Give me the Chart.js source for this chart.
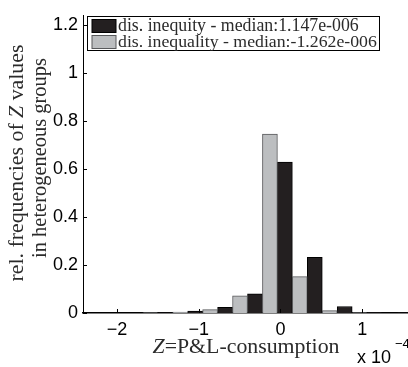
<!DOCTYPE html>
<html><head><meta charset="utf-8">
<script src="https://cdn.jsdelivr.net/npm/chart.js@4/dist/chart.umd.min.js"></script>
<style>html,body{margin:0;padding:0;background:#fff;overflow:hidden}#wrap{width:414px;height:367px}</style>
</head><body><div id="wrap"><canvas id="c" width="414" height="367"></canvas></div>
<script>
// bin centres (units of 1e-4)
const binCenters = [-2.233, -1.867, -1.501, -1.135, -0.769, -0.403, -0.037, 0.329, 0.695, 1.061, 1.427];
// relative frequencies
const inequalityFreq = [0, 0, 0.001, 0.004, 0.014, 0.072, 0.746, 0.152, 0.010, 0.001, 0];
const inequityFreq   = [0, 0, 0.001, 0.008, 0.024, 0.080, 0.630, 0.232, 0.027, 0.002, 0.001];
const seriesLabels = ['dis. inequity - median:1.147e-006', 'dis. inequality - median:-1.262e-006'];
const xTickValues = [-2, -1, 0, 1];
const yTickValues = [0, 0.2, 0.4, 0.6, 0.8, 1, 1.2];

const SANS = '"Liberation Sans", Arial, sans-serif';
const SERIF = '"Liberation Serif", "Times New Roman", serif';
const DARK = '#231f20', LIGHT = '#bcbec0', LIGHT_EDGE = '#58595b', TEXT_GRAY = '#2b2b2b';

function drawRich(ctx, parts, x, y, size, align) {
  let total = 0;
  parts.forEach(p => { ctx.font = (p.i ? 'italic ' : '') + size + 'px ' + SERIF; p.w = ctx.measureText(p.t).width; total += p.w; });
  let cx = align === 'center' ? x - total / 2 : x;
  ctx.textAlign = 'left';
  parts.forEach(p => { ctx.font = (p.i ? 'italic ' : '') + size + 'px ' + SERIF; ctx.fillText(p.t, cx, y); cx += p.w; });
  return total;
}
function fitSize(ctx, parts, target, base) {
  let total = 0;
  parts.forEach(p => { ctx.font = (p.i ? 'italic ' : '') + base + 'px ' + SERIF; total += ctx.measureText(p.t).width; });
  return base * target / total;
}

const decor = {
  id: 'decor',
  afterDraw(chart) {
    const ctx = chart.ctx, ca = chart.chartArea, xs = chart.scales.x, ys = chart.scales.y;
    ctx.save();
    // inward ticks
    ctx.strokeStyle = '#000'; ctx.lineWidth = 1;
    yTickValues.forEach(v => { const py = Math.round(ys.getPixelForValue(v)) + 0.5; ctx.beginPath(); ctx.moveTo(ca.left, py); ctx.lineTo(ca.left + 4, py); ctx.stroke(); });
    xTickValues.forEach(v => { const px = Math.round(xs.getPixelForValue(v)) + 0.5; ctx.beginPath(); ctx.moveTo(px, ca.bottom); ctx.lineTo(px, ca.bottom - 4); ctx.stroke(); });

    // legend
    const bx = 87.5, by = 16.5, bw = 292, bh = 34;
    ctx.fillStyle = '#fff'; ctx.fillRect(bx, by, bw, bh);
    ctx.strokeStyle = '#000'; ctx.lineWidth = 1; ctx.strokeRect(bx, by, bw, bh);
    const ds = chart.data.datasets;
    const order = [1, 0];
    const targets = [241, 259];
    order.forEach((di, row) => {
      const d = ds[di];
      const sy = 19.5 + row * 16;
      ctx.fillStyle = d.backgroundColor; ctx.fillRect(92, sy, 24, 13);
      ctx.strokeStyle = d.borderColor; ctx.lineWidth = 1; ctx.strokeRect(92, sy, 24, 13);
      ctx.fillStyle = TEXT_GRAY; ctx.textBaseline = 'alphabetic';
      const parts = [{ t: d.label }];
      const sz = fitSize(ctx, parts, targets[row], 16);
      drawRich(ctx, parts, 118, sy + 11, sz, 'left');
    });

    // x title
    ctx.fillStyle = TEXT_GRAY;
    const xp = [{ t: 'Z', i: true }, { t: '=P&L-consumption' }];
    const xsz = fitSize(ctx, xp, 187, 18);
    drawRich(ctx, xp, 246, 353, xsz, 'center');

    // y title
    ctx.save();
    ctx.translate(0, 0);
    const y1 = [{ t: 'rel. frequencies of ' }, { t: 'Z', i: true }, { t: ' values' }];
    const y2 = [{ t: 'in heterogeneous groups' }];
    const s1 = fitSize(ctx, y1, 237, 18), s2 = fitSize(ctx, y2, 200, 18);
    ctx.save(); ctx.translate(23, 163); ctx.rotate(-Math.PI / 2); drawRich(ctx, y1, 0, 0, s1, 'center'); ctx.restore();
    ctx.save(); ctx.translate(46, 158); ctx.rotate(-Math.PI / 2); drawRich(ctx, y2, 0, 0, s2, 'center'); ctx.restore();
    ctx.restore();

    // exponent
    ctx.fillStyle = '#000'; ctx.textAlign = 'left';
    ctx.font = '18px ' + SANS; ctx.fillText('x 10', 357, 363);
    ctx.font = '13px ' + SANS; ctx.fillText('\u22124', 395, 348);
    ctx.restore();
  }
};

const fmt = v => (v < 0 ? '\u2212' : '') + String(Math.abs(v));

new Chart(document.getElementById('c'), {
  type: 'bar',
  data: {
    datasets: [
      { label: seriesLabels[1], data: binCenters.map((x, i) => ({ x, y: inequalityFreq[i] })), backgroundColor: LIGHT, borderColor: LIGHT_EDGE, borderWidth: 1, barPercentage: 1, categoryPercentage: 1 },
      { label: seriesLabels[0], data: binCenters.map((x, i) => ({ x, y: inequityFreq[i] })), backgroundColor: DARK, borderColor: '#000', borderWidth: 1, barPercentage: 1, categoryPercentage: 1 }
    ]
  },
  options: {
    responsive: false, animation: false, devicePixelRatio: 1,
    layout: { padding: { top: 13, right: 2, left: 0, bottom: 0 } },
    plugins: { legend: { display: false }, tooltip: { enabled: false } },
    scales: {
      x: {
        type: 'linear', min: -2.416, max: 1.61, offset: false,
        grid: { display: false, drawTicks: false },
        border: { display: true, color: '#000', width: 1.5 },
        ticks: { includeBounds: false, autoSkip: false, maxRotation: 0, padding: 6, color: '#000', font: { family: SANS, size: 18 }, callback: fmt },
        afterBuildTicks: s => { s.ticks = xTickValues.map(v => ({ value: v })); },
        afterFit: s => { s.height = 54; }
      },
      y: {
        min: 0, max: 1.24,
        grid: { display: false, drawTicks: false },
        border: { display: true, color: '#000', width: 1 },
        ticks: { includeBounds: false, padding: 5, color: '#000', font: { family: SANS, size: 18 }, callback: v => String(v) },
        afterBuildTicks: s => { s.ticks = yTickValues.map(v => ({ value: v })); },
        afterFit: s => { s.width = 83; }
      }
    }
  },
  plugins: [decor]
});
</script></body></html>
